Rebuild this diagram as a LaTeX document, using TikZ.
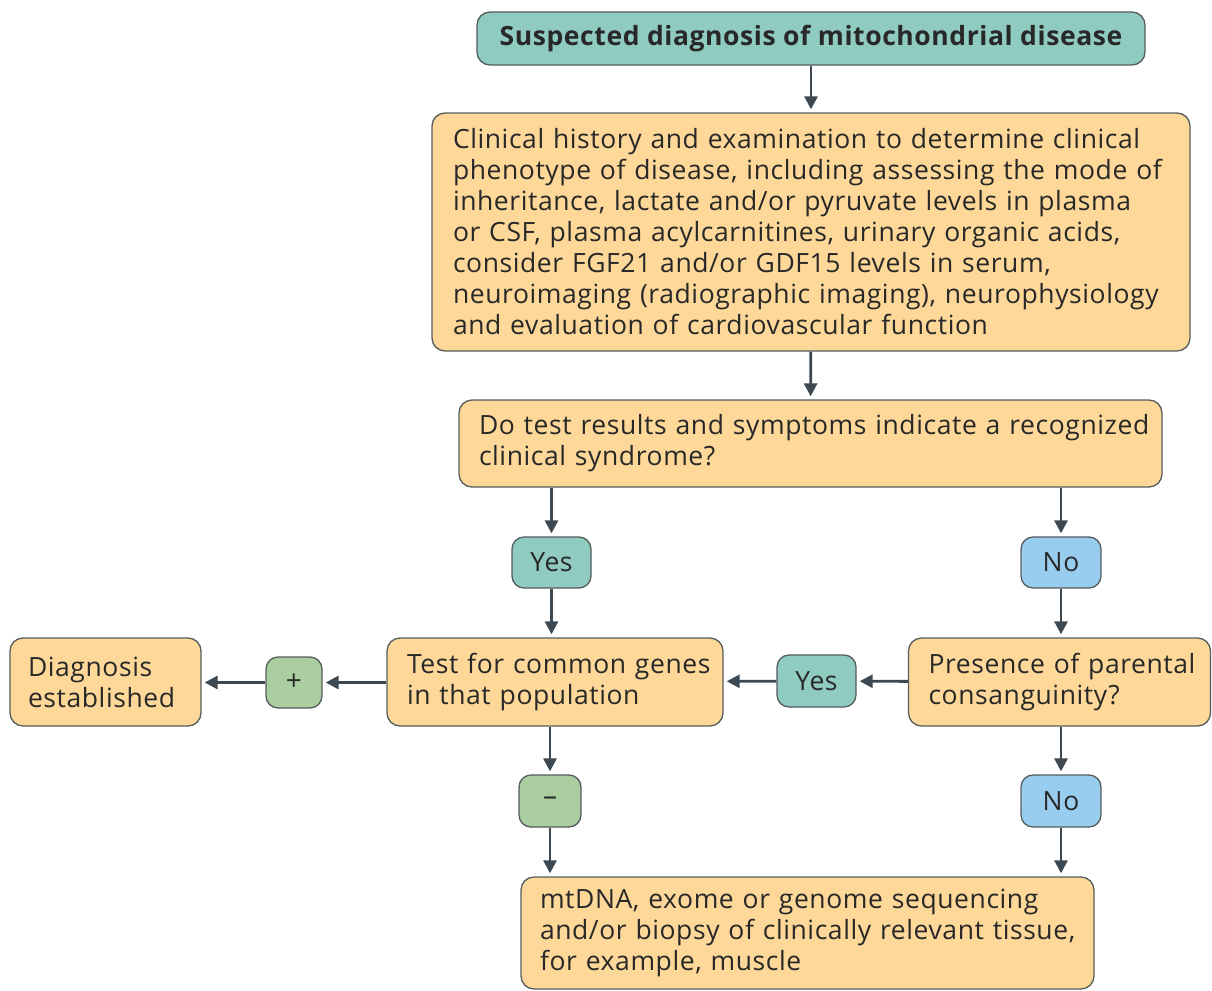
\documentclass[tikz,border=0pt]{standalone}
\usepackage{fontspec}
\setmainfont{Open Sans}[LetterSpace=2.2]
\usetikzlibrary{arrows.meta}
\definecolor{teal}{RGB}{143,203,192}
\definecolor{peach}{RGB}{253,216,152}
\definecolor{skyb}{RGB}{152,205,240}
\definecolor{sage}{RGB}{170,206,160}
\definecolor{edge}{RGB}{85,92,92}
\definecolor{arrc}{RGB}{60,72,82}
\definecolor{txt}{RGB}{40,40,40}
\tikzset{
  box/.style={draw=edge, line width=1.3pt, rounded corners=13pt, inner sep=0pt, text=txt,
    font=\fontsize{26.5}{31}\selectfont},
  textbox/.style={box, fill=peach, align=left},
  tag/.style={box, rounded corners=12pt, align=center},
  arr/.style={draw=arrc, line width=2.8pt, -{Triangle[length=13pt,width=13pt]}, shorten >=3pt}
}
\begin{document}
\begin{tikzpicture}[x=1pt,y=-1pt]
\useasboundingbox (0,0) rectangle (1212,990);
\node[box, fill=teal, minimum width=668pt, minimum height=53pt, font=\fontsize{26.5}{31}\selectfont\bfseries] (top) at (811,38.5) {Suspected diagnosis of mitochondrial disease};
\node[textbox, minimum width=758pt, minimum height=238pt, text width=716pt] (main) at (811,232) {\mbox{Clinical history and examination to determine clinical}\\ \mbox{phenotype of disease, including assessing the mode of}\\ \mbox{inheritance, lactate and/or pyruvate levels in plasma}\\ \mbox{or CSF, plasma acylcarnitines, urinary organic acids,}\\ \mbox{consider FGF21 and/or GDF15 levels in serum,}\\ \mbox{neuroimaging (radiographic imaging), neurophysiology}\\ \mbox{and evaluation of cardiovascular function}};
\node[textbox, minimum width=703pt, minimum height=87pt, text width=663pt] (q) at (810.5,443.5) {\mbox{Do test results and symptoms indicate a recognized}\\ \mbox{clinical syndrome?}};
\node[tag, fill=teal, minimum width=79pt, minimum height=51pt] (yes1) at (551.5,562.5) {Yes};
\node[tag, fill=skyb, minimum width=80pt, minimum height=51pt] (no1) at (1061,562.5) {No};
\node[textbox, minimum width=336pt, minimum height=88pt, text width=296pt] (test) at (555,682) {\mbox{Test for common genes}\\ \mbox{in that population}};
\node[textbox, minimum width=302pt, minimum height=88pt, text width=262pt] (pres) at (1059.5,682) {\mbox{Presence of parental}\\ \mbox{consanguinity?}};
\node[tag, fill=teal, minimum width=79pt, minimum height=52pt] (yes2) at (816.5,681) {Yes};
\node[tag, fill=sage, minimum width=56pt, minimum height=51pt, font=\fontsize{28}{30}\selectfont] (plus) at (294,682.5) {+};
\node[textbox, minimum width=191pt, minimum height=88pt, text width=155pt] (diag) at (105.5,682) {\mbox{Diagnosis}\\ \mbox{established}};
\node[tag, fill=sage, minimum width=62pt, minimum height=52pt, font=\fontsize{28}{30}\selectfont] (minus) at (550,801) {–};
\node[tag, fill=skyb, minimum width=80pt, minimum height=52pt] (no2) at (1061,801) {No};
\node[textbox, minimum width=573pt, minimum height=112pt, text width=535pt] (bot) at (807.5,933) {\mbox{mtDNA, exome or genome sequencing}\\ \mbox{and/or biopsy of clinically relevant tissue,}\\ \mbox{for example, muscle}};
\draw[arr] (top) -- (main);
\draw[arr] (main) -- (q);
\draw[arr] (q.south -| yes1) -- (yes1);
\draw[arr] (q.south -| no1) -- (no1);
\draw[arr] (yes1) -- (test.north -| yes1);
\draw[arr] (no1) -- (pres.north -| no1);
\draw[arr] (pres) -- (yes2);
\draw[arr] (yes2) -- (test);
\draw[arr] (test.west |- plus) -- (plus);
\draw[arr] (plus) -- (diag.east |- plus);
\draw[arr] (test.south -| minus) -- (minus);
\draw[arr] (minus) -- (bot.north -| minus);
\draw[arr] (pres.south -| no2) -- (no2);
\draw[arr] (no2) -- (bot.north -| no2);
\end{tikzpicture}
\end{document}
